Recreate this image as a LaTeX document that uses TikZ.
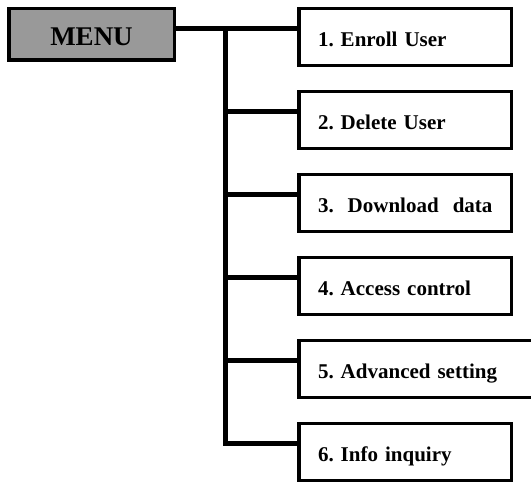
\documentclass[tikz,border=0pt]{standalone}
\usepackage{fontspec}
\setmainfont{Liberation Serif}
\usetikzlibrary{positioning}
\definecolor{Menu}{gray}{0.6}

\begin{document}
\begin{tikzpicture}[
    x=1pt, y=1pt,
    every node/.style={font={\frenchspacing\bfseries\fontsize{21}{24}\selectfont}},
    menubox/.style={draw, rectangle, line width=3.5pt, fill=Menu, minimum width=165.5pt, minimum height=51.5pt,
      text height=23pt, text depth=0pt, font={\bfseries\fontsize{27}{30}\selectfont}},
    item/.style={draw, rectangle, line width=3.5pt, fill=white, minimum height=57pt, text width=174pt,
      inner xsep=19.25pt, align=left, text height=19pt, text depth=0pt},
    wideitem/.style={item, text width=195.5pt},
    wire/.style={line width=5pt}
    ]
    \useasboundingbox (0,0) rectangle (531,-484);

    \node [menubox, anchor=north west] (menu) at (7,-7) {MENU};
    \node [item, anchor=north west] (enroll) at (297,-7) {1. Enroll User};
    \node [item, below=22.4pt of enroll.south west, anchor=north west] (delete) {2. Delete User};
    \node [item, below=22.4pt of delete.south west, anchor=north west] (download) {\mbox{3.~~Download~~data}};
    \node [item, below=22.4pt of download.south west, anchor=north west] (access) {4. Access control};
    \node [wideitem, below=22.4pt of access.south west, anchor=north west] (advanced) {5. Advanced setting};
    \node [item, below=22.4pt of advanced.south west, anchor=north west] (info) {6. Info inquiry};

    \foreach \n in {enroll,delete,download,access,advanced,info}
      \coordinate (\n-in) at ([yshift=-22pt]\n.north west);
    \coordinate (trunk top) at ([xshift=-72pt]enroll-in);
    \coordinate (trunk bottom) at ([xshift=-72pt]info-in);

    \draw[wire] (menu.east |- enroll-in) -- (enroll-in);
    \draw[wire] (trunk top) -- (trunk bottom) -- (info-in);
    \foreach \n in {delete,download,access,advanced}
      \draw[wire] (trunk top |- \n-in) -- (\n-in);
\end{tikzpicture}
\end{document}
